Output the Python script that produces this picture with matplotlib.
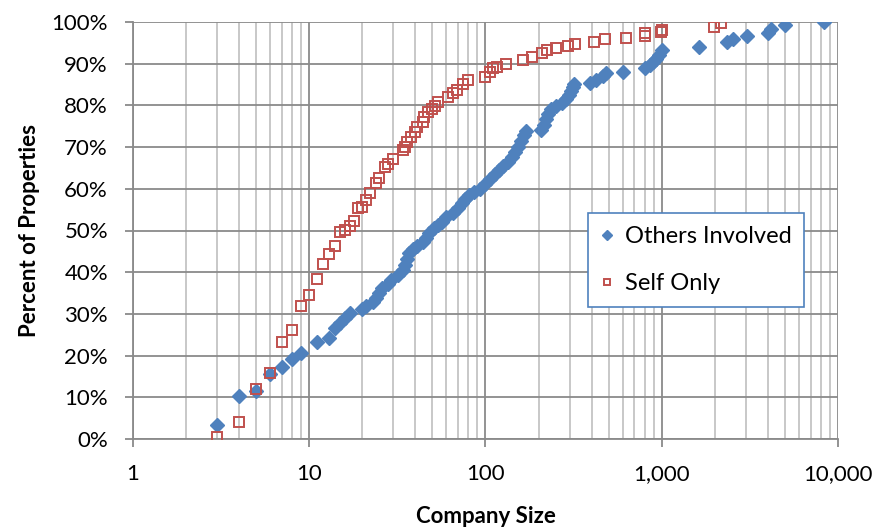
import matplotlib
matplotlib.use("Agg")
import matplotlib.pyplot as plt
from matplotlib.ticker import FixedLocator, FuncFormatter, LogLocator, NullFormatter

plt.rcParams['font.family'] = ['Lato', 'DejaVu Sans']

others_x = [3, 4, 5, 6, 7, 8, 9, 11, 13, 14, 15, 16, 17, 20, 21, 23, 24, 25, 26, 28,
            29, 32, 34, 35, 36, 37, 39, 41, 44, 46, 48, 51, 54, 57, 60, 65, 70, 74, 77, 81,
            86, 93, 99, 106, 113, 119, 126, 134, 141, 147, 153, 159, 165, 170, 207, 215, 220, 226, 235, 251,
            272, 286, 298, 306, 314, 318, 392, 424, 464, 483, 603, 804, 858, 892, 928, 965, 1000, 1627, 2346, 2537,
            3046, 4006, 4168, 5004, 8329]
others_y = [3.4, 10.3, 11.5, 15.6, 17.3, 19.2, 20.6, 23.3, 24.2, 26.6, 27.8, 29.0, 30.2, 31.2, 31.9, 32.9, 33.8, 35.0, 36.2, 37.2,
            38.1, 39.3, 40.5, 41.7, 43.2, 44.6, 45.6, 46.3, 47.2, 48.2, 49.4, 50.6, 51.3, 52.0, 53.2, 54.2, 55.4, 56.6, 57.6, 58.5,
            59.2, 60.0, 61.2, 62.4, 63.5, 64.5, 65.5, 66.4, 67.6, 68.8, 70.0, 71.5, 72.9, 73.9, 74.1, 75.3, 76.7, 77.9, 79.1, 79.9,
            80.6, 81.5, 82.5, 83.5, 84.4, 85.1, 85.4, 86.1, 87.1, 87.8, 88.0, 89.0, 89.7, 90.4, 91.1, 92.1, 93.3, 94.0, 95.2, 95.9,
            96.6, 97.4, 98.3, 99.3, 100.0]

self_x = [3, 4, 5, 6, 7, 8, 9, 10, 11, 12, 13, 14, 15, 16, 17, 18, 19, 20, 21, 22,
          24, 25, 27, 28, 30, 34, 35, 36, 38, 40, 41, 44, 45, 47, 50, 52, 54, 61, 65, 69,
          75, 80, 99, 106, 110, 116, 131, 163, 184, 209, 223, 251, 294, 322, 413, 476, 627, 804, 804, 990,
          1000, 1980, 2170]
self_y = [0.5, 4.1, 12.0, 15.8, 23.3, 26.1, 31.9, 34.5, 38.4, 42.0, 44.4, 46.3, 49.6, 50.1, 51.1, 52.3, 55.4, 55.6, 57.3, 59.0,
          61.4, 62.6, 65.2, 65.9, 67.1, 69.3, 70.0, 71.2, 72.4, 73.6, 74.8, 76.0, 77.2, 78.4, 79.1, 79.9, 80.8, 82.0, 83.0, 83.7,
          85.1, 86.1, 86.8, 88.0, 89.0, 89.2, 89.9, 90.9, 91.6, 92.6, 93.3, 93.8, 94.2, 94.7, 95.2, 95.9, 96.2, 96.6, 97.4, 97.6,
          98.1, 98.8, 99.8]

x_ticks = [1, 10, 100, 1000, 10000]
x_tick_labels = ["1", "10", "100", "1,000", "10,000"]
y_ticks = list(range(0, 101, 10))

fig = plt.figure(figsize=(8.78, 5.27), dpi=100)
ax = fig.add_axes([133/878, 1-439/527, (838-133)/878, (439-22)/527])

ax.set_xscale('log')
ax.set_xlim(1, 10000)
ax.set_ylim(0, 100)

major_c = '#8A8A8A'
minor_c = '#BFBFBF'
ax.xaxis.set_major_locator(FixedLocator(x_ticks))
ax.xaxis.set_major_formatter(FuncFormatter(lambda v, p: x_tick_labels[x_ticks.index(int(round(v)))] if int(round(v)) in x_ticks else ""))
ax.xaxis.set_minor_locator(LogLocator(base=10, subs=range(2, 10)))
ax.xaxis.set_minor_formatter(NullFormatter())
ax.yaxis.set_major_locator(FixedLocator(y_ticks))
ax.yaxis.set_major_formatter(FuncFormatter(lambda v, p: f"{int(round(v))}%"))

ax.grid(which='major', axis='both', color=major_c, linewidth=1.3, zorder=0)
ax.grid(which='minor', axis='x', color=minor_c, linewidth=1.2, zorder=0)
ax.set_axisbelow(True)

for s in ['top', 'right']:
    ax.spines[s].set_visible(False)
for s in ['left', 'bottom']:
    ax.spines[s].set_color(major_c)
    ax.spines[s].set_linewidth(1.3)

ax.tick_params(axis='both', which='major', direction='out', length=6, color=major_c, width=1.3,
               labelsize=16, labelcolor='black')
ax.tick_params(axis='x', which='major', pad=12)
ax.tick_params(axis='y', which='major', pad=12)
ax.tick_params(axis='x', which='minor', length=0)

ax.plot(others_x, others_y, linestyle='none', marker='D', markersize=7, color='#4F81BD',
        markeredgecolor='#4F81BD', label='Others Involved', zorder=3)
ax.plot(self_x, self_y, linestyle='none', marker='s', markersize=6.5, markerfacecolor='none',
        markeredgecolor='#C0504D', markeredgewidth=1.4, label='Self Only', zorder=4)

ax.set_xlabel('Company Size', fontsize=16, fontweight='bold', labelpad=16)
ax.set_ylabel('Percent of Properties', fontsize=16, fontweight='bold', labelpad=8)

leg = ax.legend(loc='upper left', bbox_to_anchor=(588/878, 1-213/527), bbox_transform=fig.transFigure,
                fontsize=17, frameon=True, fancybox=False, borderpad=0.55, labelspacing=1.1,
                handlelength=0.5, handletextpad=0.5, markerscale=0.7, borderaxespad=0)
leg.get_frame().set_edgecolor('#4F81BD')
leg.get_frame().set_linewidth(1.2)
leg.get_frame().set_facecolor('white')
leg.get_frame().set_alpha(1)

fig.savefig('out.png', dpi=100)
